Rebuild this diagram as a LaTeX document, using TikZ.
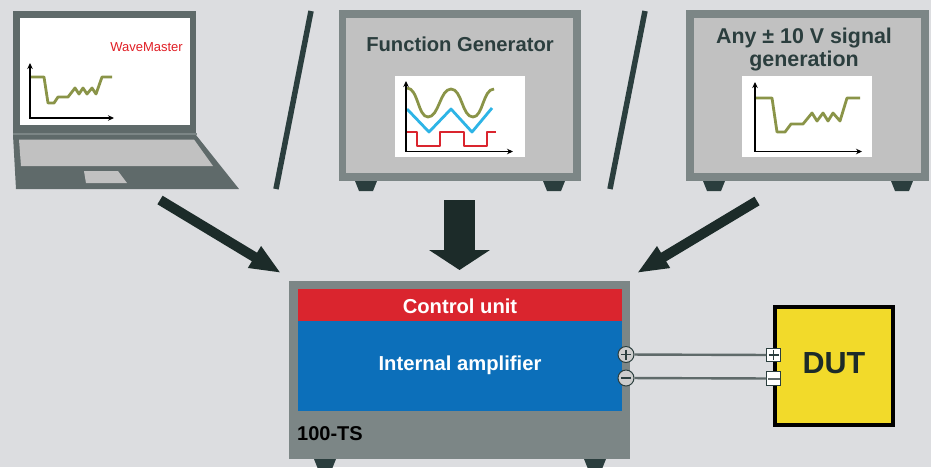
\documentclass[tikz,border=0pt]{standalone}
\usepackage{fontspec}
\setmainfont{Liberation Sans}
\usetikzlibrary{arrows.meta}
\definecolor{bgc}{HTML}{DCDDE0}
\definecolor{frameg}{HTML}{7C8686}
\definecolor{panelg}{HTML}{C1C1C1}
\definecolor{lapg}{HTML}{5F6A6A}
\definecolor{darkg}{HTML}{2B3E3E}
\definecolor{arrowg}{HTML}{1C2B29}
\definecolor{olive}{HTML}{8A9448}
\definecolor{skyb}{HTML}{2DB4E6}
\definecolor{redc}{HTML}{DA252E}
\definecolor{bluec}{HTML}{0C6FBA}
\definecolor{yellowc}{HTML}{F2DA2A}
\tikzset{
 x=1pt,y=-1pt,
 boxn/.style={inner sep=0pt,outer sep=0pt,anchor=north west},
 framebox/.style={boxn,fill=frameg},
 panel/.style={boxn,fill=panelg},
 plotbg/.style={boxn,fill=white,minimum width=130pt,minimum height=81pt},
 foot/.style={fill=darkg},
 slash/.style={draw=darkg,line width=5.5pt},
 axes/.style={draw=black,line width=1.6pt,{Stealth[length=6pt,width=5.5pt]}-{Stealth[length=6pt,width=5.5pt]}},
 sig/.style={line width=2.8pt,line join=round},
 flow/.style={draw=arrowg,line width=10pt,-{Triangle[length=31pt,width=23pt]}},
 bigflow/.style={draw=arrowg,line width=31pt,-{Triangle[length=20pt,width=60pt]}},
 title/.style={font=\bfseries\fontsize{20.2}{23}\selectfont,text=darkg,align=center,inner sep=0pt},
 wtitle/.style={font=\bfseries\fontsize{20.2}{23}\selectfont,text=white,inner sep=0pt},
 term/.style={circle,draw=darkg,fill=panelg!80!white,line width=1pt,minimum size=16pt,inner sep=0pt},
 pad/.style={draw=darkg,fill=white,line width=.9pt,minimum size=13.5pt,inner sep=0pt},
 wire/.style={draw=lapg,line width=2.4pt},
}
\newcommand{\feet}[3]{%
 \fill[foot] (#1,#3) -- (#1+22,#3) -- (#1+18,#3+10) -- (#1+4,#3+10) -- cycle;
 \fill[foot] (#2,#3) -- (#2+22,#3) -- (#2+18,#3+10) -- (#2+4,#3+10) -- cycle;}
\begin{document}
\begin{tikzpicture}
\useasboundingbox (0,0) rectangle (931,467);
\fill[bgc] (0,0) rectangle (931,467);
% laptop
\fill[lapg] (13,11) rectangle (196,133);
\fill[lapg] (13,135) -- (196,135) -- (239,189) -- (16,189) -- cycle;
\fill[frameg] (13,132.5) rectangle (197,135);
\fill[panelg] (19,139.5) -- (194,139.5) -- (213,166) -- (21,166) -- cycle;
\fill[panelg] (84,171) -- (118,171) -- (127,183) -- (86,183) -- cycle;
\node[boxn,fill=white,minimum width=170pt,minimum height=107pt] (screen) at (20,18) {};
\node[text=redc!80!red,inner sep=0pt,font=\fontsize{13}{15}\selectfont] (wm) at (146.5,47) {WaveMaster};
\draw[axes] (30,63) -- (30,118) -- (114,118);
\draw[sig,olive] (31,77) -- (44,77) -- (48,103) -- (54,103) -- (58,97) -- (68,97) -- (75,88) -- (79,94) -- (83,88) -- (87,94) -- (92,88) -- (96,94) -- (102,77) -- (112,77);
% slashes
\draw[slash] (311,11) -- (276,189);
\draw[slash] (645,11) -- (610,189);
% function generator
\feet{355}{543}{181}
\node[framebox,minimum width=242pt,minimum height=171pt] (fgo) at (339,10) {};
\node[panel,minimum width=227pt,minimum height=155pt] (fgi) at (346,18) {};
\node[title] (fgt) at (460,44) {Function Generator};
\node[plotbg] (fgp) at (395,76) {};
\draw[sig,olive] (407,88) .. controls (418,88) and (418,117) .. (428,117) .. controls (439,117) and (440,89) .. (451,89) .. controls (462,89) and (462,117) .. (473,117) .. controls (483,117) and (483,89) .. (494,89);
\draw[sig,skyb] (407,109) -- (429,132) -- (451,109) -- (472,132) -- (492,108);
\draw[sig,redc] (407,132) -- (417,132) -- (417,146) -- (440,146) -- (440,132) -- (464,132) -- (464,146) -- (487,146) -- (487,132) -- (496,132);
\draw[axes] (406,81) -- (406,151.5) -- (513,151.5);
% any signal
\feet{703}{891}{181}
\node[framebox,minimum width=243pt,minimum height=171pt] (sgo) at (686,10) {};
\node[panel,minimum width=227pt,minimum height=155pt] (sgi) at (694,18) {};
\node[title,text=darkg,font=\bfseries\fontsize{21.4}{23}\selectfont] (sgt) at (804,49.5) {Any ± 10 V signal\\[0pt]generation};
\node[plotbg] (sgp) at (742,76) {};
\draw[sig,olive] (756,98) -- (772,98) -- (777,132) -- (785,132) -- (791,124) -- (803,124) -- (812,113) -- (817,121) -- (823,113) -- (828,121) -- (833,113) -- (840,121) -- (847,98) -- (860,98);
\draw[axes] (755,82) -- (755,151.5) -- (862,151.5);
% flows
\coordinate (a1s) at (160,200); \coordinate (a1e) at (281,273);
\coordinate (a2s) at (459.5,200); \coordinate (a2e) at (459.5,270);
\coordinate (a3s) at (757,201); \coordinate (a3e) at (637,273);
\draw[flow] (a1s) -- (a1e);
\draw[bigflow] (a2s) -- (a2e);
\draw[flow] (a3s) -- (a3e);
% 100-TS
\feet{314}{584}{459}
\node[framebox,minimum width=341pt,minimum height=178pt] (ts) at (289,281) {};
\node[boxn,fill=redc,minimum width=324pt,minimum height=33pt] (cu) at (298,289) {};
\node[boxn,fill=bluec,minimum width=324pt,minimum height=90pt] (amp) at (298,321) {};
\node[wtitle] (cut) at (460,306) {Control unit};
\node[wtitle] (ampt) at (460,365) {Internal amplifier};
\node[anchor=west,inner sep=0pt,font=\bfseries\fontsize{20}{22}\selectfont,text=black] (tsl) at (297,433.5) {100-TS};
% DUT
\node[boxn,fill=yellowc,draw=black,line width=3.5pt,minimum width=118pt,minimum height=118pt] (dut) at (775,307) {};
\node[inner sep=0pt,font=\bfseries\fontsize{30.5}{32}\selectfont,text=arrowg] (dutt) at (834,363) {DUT};
\node[term] (tp) at (626,354.5) {};
\node[term] (tm) at (626,378) {};
\node[pad] (dp) at (773.5,355) {};
\node[pad] (dm) at (773.5,378.5) {};
\draw[wire] (tp) -- (dp);
\draw[wire] (tm) -- (dm);
\draw[darkg,line width=1.3pt] (621,354.5) -- (631,354.5) (626,349.5) -- (626,359.5);
\draw[darkg,line width=1.3pt] (621,378) -- (631,378);
\draw[darkg,line width=1.6pt] (768.5,355) -- (778.5,355) (773.5,350) -- (773.5,360);
\fill[lapg] (767.5,377.5) rectangle (779.5,379.5);
\end{tikzpicture}
\end{document}
